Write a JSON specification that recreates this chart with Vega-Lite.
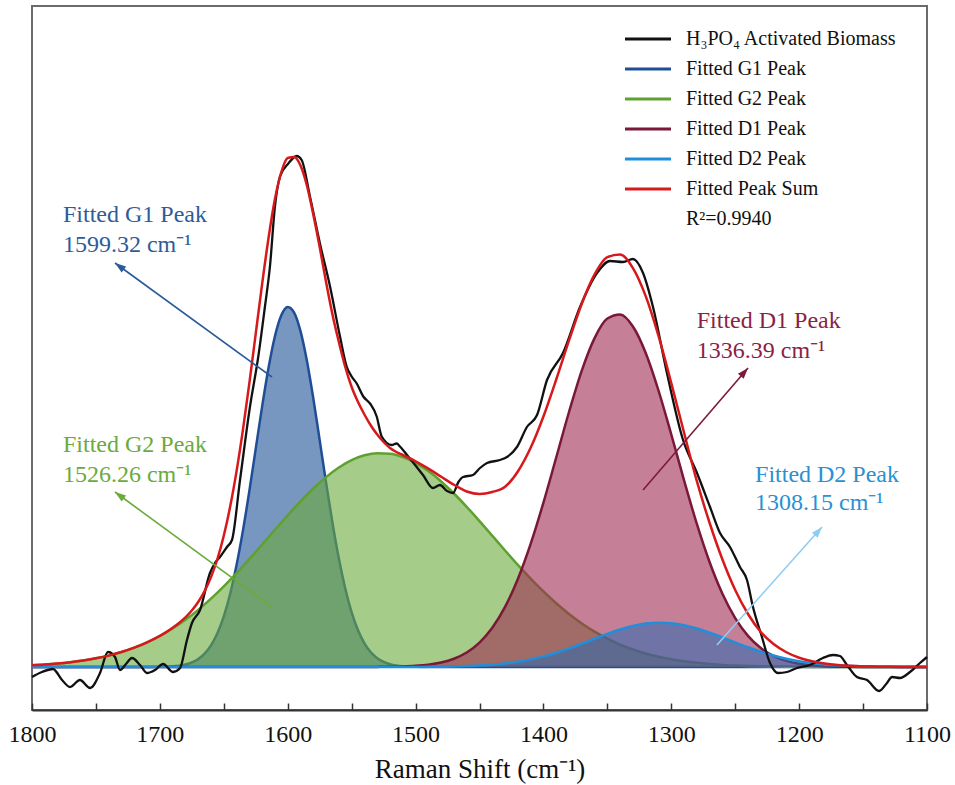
{
  "$schema": "https://vega.github.io/schema/vega-lite/v6.json",
  "width": 895,
  "height": 704,
  "autosize": {"type": "none"},
  "padding": {"left": 32, "top": 6, "right": 28, "bottom": 75},
  "background": "white",
  "config": {
    "font": "Liberation Serif",
    "view": {"stroke": "#6b6b6b", "strokeWidth": 2},
    "axis": {"grid": false, "labelFont": "Liberation Serif", "titleFont": "Liberation Serif"},
    "legend": {"labelFont": "Liberation Serif"},
    "text": {"font": "Liberation Serif"}
  },
  "datasets": {
    "peaks": [
      {"peak":"G1","v":1800,"I":0},{"peak":"G1","v":1720,"I":0},{"peak":"G1","v":1710,"I":0.0001},{"peak":"G1","v":1700,"I":0.0003},{"peak":"G1","v":1695,"I":0.0006},{"peak":"G1","v":1690,"I":0.0013},{"peak":"G1","v":1685,"I":0.0026},{"peak":"G1","v":1680,"I":0.0049},{"peak":"G1","v":1675,"I":0.009},{"peak":"G1","v":1670,"I":0.0158},{"peak":"G1","v":1665,"I":0.0266},{"peak":"G1","v":1660,"I":0.0431},{"peak":"G1","v":1655,"I":0.0674},{"peak":"G1","v":1650,"I":0.1013},{"peak":"G1","v":1645,"I":0.1466},{"peak":"G1","v":1640,"I":0.204},{"peak":"G1","v":1635,"I":0.2732},{"peak":"G1","v":1630,"I":0.3521},{"peak":"G1","v":1625,"I":0.4367},{"peak":"G1","v":1620,"I":0.5212},{"peak":"G1","v":1615,"I":0.5985},{"peak":"G1","v":1610,"I":0.6615},{"peak":"G1","v":1605,"I":0.7034},{"peak":"G1","v":1600,"I":0.72},{"peak":"G1","v":1595,"I":0.7089},{"peak":"G1","v":1590,"I":0.6718},{"peak":"G1","v":1585,"I":0.6125},{"peak":"G1","v":1580,"I":0.5375},{"peak":"G1","v":1575,"I":0.4538},{"peak":"G1","v":1570,"I":0.3687},{"peak":"G1","v":1565,"I":0.2883},{"peak":"G1","v":1560,"I":0.2169},{"peak":"G1","v":1555,"I":0.157},{"peak":"G1","v":1550,"I":0.1094},{"peak":"G1","v":1545,"I":0.0734},{"peak":"G1","v":1540,"I":0.0473},{"peak":"G1","v":1535,"I":0.0294},{"peak":"G1","v":1530,"I":0.0176},{"peak":"G1","v":1525,"I":0.0101},{"peak":"G1","v":1520,"I":0.0056},{"peak":"G1","v":1515,"I":0.003},{"peak":"G1","v":1510,"I":0.0015},{"peak":"G1","v":1500,"I":0.0004},{"peak":"G1","v":1490,"I":0.0001},{"peak":"G1","v":1480,"I":0},{"peak":"G1","v":1100,"I":0},
      {"peak":"G2","v":1800,"I":0.0035},{"peak":"G2","v":1790,"I":0.0049},{"peak":"G2","v":1780,"I":0.0068},{"peak":"G2","v":1770,"I":0.0094},{"peak":"G2","v":1760,"I":0.0128},{"peak":"G2","v":1750,"I":0.0173},{"peak":"G2","v":1740,"I":0.0228},{"peak":"G2","v":1730,"I":0.0299},{"peak":"G2","v":1720,"I":0.0387},{"peak":"G2","v":1710,"I":0.0493},{"peak":"G2","v":1700,"I":0.062},{"peak":"G2","v":1690,"I":0.077},{"peak":"G2","v":1680,"I":0.0944},{"peak":"G2","v":1670,"I":0.1143},{"peak":"G2","v":1660,"I":0.1366},{"peak":"G2","v":1650,"I":0.1612},{"peak":"G2","v":1640,"I":0.1877},{"peak":"G2","v":1630,"I":0.2157},{"peak":"G2","v":1620,"I":0.2449},{"peak":"G2","v":1610,"I":0.2744},{"peak":"G2","v":1600,"I":0.3034},{"peak":"G2","v":1590,"I":0.3312},{"peak":"G2","v":1580,"I":0.357},{"peak":"G2","v":1570,"I":0.3798},{"peak":"G2","v":1560,"I":0.399},{"peak":"G2","v":1550,"I":0.4137},{"peak":"G2","v":1540,"I":0.4234},{"peak":"G2","v":1530,"I":0.4277},{"peak":"G2","v":1520,"I":0.4267},{"peak":"G2","v":1510,"I":0.4201},{"peak":"G2","v":1500,"I":0.4084},{"peak":"G2","v":1490,"I":0.3918},{"peak":"G2","v":1480,"I":0.3711},{"peak":"G2","v":1470,"I":0.347},{"peak":"G2","v":1460,"I":0.3203},{"peak":"G2","v":1450,"I":0.2919},{"peak":"G2","v":1440,"I":0.2625},{"peak":"G2","v":1430,"I":0.2331},{"peak":"G2","v":1420,"I":0.2044},{"peak":"G2","v":1410,"I":0.1769},{"peak":"G2","v":1400,"I":0.1511},{"peak":"G2","v":1390,"I":0.1274},{"peak":"G2","v":1380,"I":0.106},{"peak":"G2","v":1370,"I":0.0871},{"peak":"G2","v":1360,"I":0.0707},{"peak":"G2","v":1350,"I":0.0566},{"peak":"G2","v":1340,"I":0.0447},{"peak":"G2","v":1330,"I":0.0349},{"peak":"G2","v":1320,"I":0.0269},{"peak":"G2","v":1310,"I":0.0204},{"peak":"G2","v":1300,"I":0.0153},{"peak":"G2","v":1290,"I":0.0114},{"peak":"G2","v":1280,"I":0.0083},{"peak":"G2","v":1270,"I":0.006},{"peak":"G2","v":1260,"I":0.0042},{"peak":"G2","v":1250,"I":0.003},{"peak":"G2","v":1240,"I":0.0021},{"peak":"G2","v":1230,"I":0.0014},{"peak":"G2","v":1220,"I":0.001},{"peak":"G2","v":1210,"I":0.0007},{"peak":"G2","v":1200,"I":0.0004},{"peak":"G2","v":1190,"I":0.0002},{"peak":"G2","v":1180,"I":0.0001},{"peak":"G2","v":1170,"I":0},{"peak":"G2","v":1100,"I":0},
      {"peak":"D1","v":1800,"I":0},{"peak":"D1","v":1540,"I":0},{"peak":"D1","v":1530,"I":0.0002},{"peak":"D1","v":1520,"I":0.0005},{"peak":"D1","v":1510,"I":0.0011},{"peak":"D1","v":1500,"I":0.0023},{"peak":"D1","v":1490,"I":0.0046},{"peak":"D1","v":1480,"I":0.0089},{"peak":"D1","v":1470,"I":0.0165},{"peak":"D1","v":1460,"I":0.029},{"peak":"D1","v":1450,"I":0.0488},{"peak":"D1","v":1440,"I":0.0784},{"peak":"D1","v":1430,"I":0.1202},{"peak":"D1","v":1420,"I":0.1761},{"peak":"D1","v":1410,"I":0.2462},{"peak":"D1","v":1400,"I":0.3287},{"peak":"D1","v":1390,"I":0.419},{"peak":"D1","v":1380,"I":0.51},{"peak":"D1","v":1370,"I":0.5928},{"peak":"D1","v":1360,"I":0.6578},{"peak":"D1","v":1350,"I":0.6969},{"peak":"D1","v":1340,"I":0.705},{"peak":"D1","v":1330,"I":0.6809},{"peak":"D1","v":1320,"I":0.628},{"peak":"D1","v":1310,"I":0.553},{"peak":"D1","v":1300,"I":0.465},{"peak":"D1","v":1290,"I":0.3733},{"peak":"D1","v":1280,"I":0.2861},{"peak":"D1","v":1270,"I":0.2094},{"peak":"D1","v":1260,"I":0.1463},{"peak":"D1","v":1250,"I":0.0976},{"peak":"D1","v":1240,"I":0.0622},{"peak":"D1","v":1230,"I":0.0378},{"peak":"D1","v":1220,"I":0.022},{"peak":"D1","v":1210,"I":0.0122},{"peak":"D1","v":1200,"I":0.0065},{"peak":"D1","v":1190,"I":0.0033},{"peak":"D1","v":1180,"I":0.0016},{"peak":"D1","v":1170,"I":0.0007},{"peak":"D1","v":1160,"I":0.0003},{"peak":"D1","v":1150,"I":0.0001},{"peak":"D1","v":1140,"I":0},{"peak":"D1","v":1100,"I":0},
      {"peak":"D2","v":1800,"I":0},{"peak":"D2","v":1510,"I":0},{"peak":"D2","v":1500,"I":0.0002},{"peak":"D2","v":1490,"I":0.0003},{"peak":"D2","v":1480,"I":0.0006},{"peak":"D2","v":1470,"I":0.001},{"peak":"D2","v":1460,"I":0.0018},{"peak":"D2","v":1450,"I":0.0029},{"peak":"D2","v":1440,"I":0.0046},{"peak":"D2","v":1430,"I":0.0071},{"peak":"D2","v":1420,"I":0.0106},{"peak":"D2","v":1410,"I":0.0153},{"peak":"D2","v":1400,"I":0.0213},{"peak":"D2","v":1390,"I":0.0286},{"peak":"D2","v":1380,"I":0.0372},{"peak":"D2","v":1370,"I":0.0467},{"peak":"D2","v":1360,"I":0.0566},{"peak":"D2","v":1350,"I":0.0663},{"peak":"D2","v":1340,"I":0.0751},{"peak":"D2","v":1330,"I":0.0821},{"peak":"D2","v":1320,"I":0.0868},{"peak":"D2","v":1310,"I":0.0887},{"peak":"D2","v":1300,"I":0.0875},{"peak":"D2","v":1290,"I":0.0835},{"peak":"D2","v":1280,"I":0.0769},{"peak":"D2","v":1270,"I":0.0685},{"peak":"D2","v":1260,"I":0.059},{"peak":"D2","v":1250,"I":0.049},{"peak":"D2","v":1240,"I":0.0394},{"peak":"D2","v":1230,"I":0.0306},{"peak":"D2","v":1220,"I":0.0229},{"peak":"D2","v":1210,"I":0.0166},{"peak":"D2","v":1200,"I":0.0117},{"peak":"D2","v":1190,"I":0.0079},{"peak":"D2","v":1180,"I":0.0052},{"peak":"D2","v":1170,"I":0.0033},{"peak":"D2","v":1160,"I":0.002},{"peak":"D2","v":1150,"I":0.0012},{"peak":"D2","v":1140,"I":0.0007},{"peak":"D2","v":1130,"I":0.0004},{"peak":"D2","v":1120,"I":0.0002},{"peak":"D2","v":1110,"I":0.0001},{"peak":"D2","v":1100,"I":0.0001}
    ],
    "spectrum": [
      {"series":"H₃PO₄ Activated Biomass","v":1800.0,"I":-0.020},{"series":"H₃PO₄ Activated Biomass","v":1792.2,"I":-0.010},{"series":"H₃PO₄ Activated Biomass","v":1783.6,"I":-0.004},{"series":"H₃PO₄ Activated Biomass","v":1776.5,"I":-0.026},{"series":"H₃PO₄ Activated Biomass","v":1770.3,"I":-0.040},{"series":"H₃PO₄ Activated Biomass","v":1762.5,"I":-0.026},{"series":"H₃PO₄ Activated Biomass","v":1754.6,"I":-0.042},{"series":"H₃PO₄ Activated Biomass","v":1746.8,"I":-0.012},{"series":"H₃PO₄ Activated Biomass","v":1740.6,"I":0.030},{"series":"H₃PO₄ Activated Biomass","v":1735.1,"I":0.020},{"series":"H₃PO₄ Activated Biomass","v":1731.2,"I":-0.006},{"series":"H₃PO₄ Activated Biomass","v":1726.5,"I":0.006},{"series":"H₃PO₄ Activated Biomass","v":1721.8,"I":0.018},{"series":"H₃PO₄ Activated Biomass","v":1715.5,"I":0.004},{"series":"H₃PO₄ Activated Biomass","v":1710.1,"I":-0.012},{"series":"H₃PO₄ Activated Biomass","v":1703.8,"I":-0.006},{"series":"H₃PO₄ Activated Biomass","v":1697.5,"I":0.006},{"series":"H₃PO₄ Activated Biomass","v":1689.7,"I":-0.010},{"series":"H₃PO₄ Activated Biomass","v":1684.2,"I":-0.002},{"series":"H₃PO₄ Activated Biomass","v":1678.8,"I":0.054},{"series":"H₃PO₄ Activated Biomass","v":1674.9,"I":0.088},{"series":"H₃PO₄ Activated Biomass","v":1668.6,"I":0.114},{"series":"H₃PO₄ Activated Biomass","v":1660.8,"I":0.188},{"series":"H₃PO₄ Activated Biomass","v":1656.9,"I":0.208},{"series":"H₃PO₄ Activated Biomass","v":1653.0,"I":0.220},{"series":"H₃PO₄ Activated Biomass","v":1647.5,"I":0.240},{"series":"H₃PO₄ Activated Biomass","v":1643.6,"I":0.254},{"series":"H₃PO₄ Activated Biomass","v":1637.3,"I":0.374},{"series":"H₃PO₄ Activated Biomass","v":1629.5,"I":0.521},{"series":"H₃PO₄ Activated Biomass","v":1623.0,"I":0.621},{"series":"H₃PO₄ Activated Biomass","v":1617.8,"I":0.721},{"series":"H₃PO₄ Activated Biomass","v":1613.9,"I":0.801},{"series":"H₃PO₄ Activated Biomass","v":1610.0,"I":0.921},{"series":"H₃PO₄ Activated Biomass","v":1606.0,"I":0.981},{"series":"H₃PO₄ Activated Biomass","v":1599.5,"I":1.007},{"series":"H₃PO₄ Activated Biomass","v":1593.0,"I":1.022},{"series":"H₃PO₄ Activated Biomass","v":1589.1,"I":1.014},{"series":"H₃PO₄ Activated Biomass","v":1582.6,"I":0.941},{"series":"H₃PO₄ Activated Biomass","v":1574.8,"I":0.847},{"series":"H₃PO₄ Activated Biomass","v":1566.9,"I":0.761},{"series":"H₃PO₄ Activated Biomass","v":1559.1,"I":0.661},{"series":"H₃PO₄ Activated Biomass","v":1553.9,"I":0.601},{"series":"H₃PO₄ Activated Biomass","v":1550.0,"I":0.581},{"series":"H₃PO₄ Activated Biomass","v":1546.0,"I":0.567},{"series":"H₃PO₄ Activated Biomass","v":1540.9,"I":0.541},{"series":"H₃PO₄ Activated Biomass","v":1535.6,"I":0.527},{"series":"H₃PO₄ Activated Biomass","v":1530.4,"I":0.501},{"series":"H₃PO₄ Activated Biomass","v":1526.5,"I":0.461},{"series":"H₃PO₄ Activated Biomass","v":1518.7,"I":0.444},{"series":"H₃PO₄ Activated Biomass","v":1514.8,"I":0.447},{"series":"H₃PO₄ Activated Biomass","v":1512.2,"I":0.441},{"series":"H₃PO₄ Activated Biomass","v":1506.7,"I":0.424},{"series":"H₃PO₄ Activated Biomass","v":1494.2,"I":0.384},{"series":"H₃PO₄ Activated Biomass","v":1486.4,"I":0.358},{"series":"H₃PO₄ Activated Biomass","v":1480.9,"I":0.364},{"series":"H₃PO₄ Activated Biomass","v":1475.4,"I":0.352},{"series":"H₃PO₄ Activated Biomass","v":1470.7,"I":0.348},{"series":"H₃PO₄ Activated Biomass","v":1466.5,"I":0.370},{"series":"H₃PO₄ Activated Biomass","v":1462.9,"I":0.380},{"series":"H₃PO₄ Activated Biomass","v":1455.1,"I":0.384},{"series":"H₃PO₄ Activated Biomass","v":1449.6,"I":0.398},{"series":"H₃PO₄ Activated Biomass","v":1444.1,"I":0.408},{"series":"H₃PO₄ Activated Biomass","v":1434.0,"I":0.414},{"series":"H₃PO₄ Activated Biomass","v":1428.5,"I":0.420},{"series":"H₃PO₄ Activated Biomass","v":1420.7,"I":0.440},{"series":"H₃PO₄ Activated Biomass","v":1412.9,"I":0.480},{"series":"H₃PO₄ Activated Biomass","v":1405.0,"I":0.504},{"series":"H₃PO₄ Activated Biomass","v":1397.2,"I":0.574},{"series":"H₃PO₄ Activated Biomass","v":1384.7,"I":0.628},{"series":"H₃PO₄ Activated Biomass","v":1371.4,"I":0.720},{"series":"H₃PO₄ Activated Biomass","v":1358.1,"I":0.788},{"series":"H₃PO₄ Activated Biomass","v":1347.9,"I":0.812},{"series":"H₃PO₄ Activated Biomass","v":1337.8,"I":0.810},{"series":"H₃PO₄ Activated Biomass","v":1330.0,"I":0.816},{"series":"H₃PO₄ Activated Biomass","v":1322.1,"I":0.788},{"series":"H₃PO₄ Activated Biomass","v":1314.3,"I":0.720},{"series":"H₃PO₄ Activated Biomass","v":1303.4,"I":0.588},{"series":"H₃PO₄ Activated Biomass","v":1290.8,"I":0.454},{"series":"H₃PO₄ Activated Biomass","v":1279.9,"I":0.388},{"series":"H₃PO₄ Activated Biomass","v":1269.7,"I":0.320},{"series":"H₃PO₄ Activated Biomass","v":1261.9,"I":0.268},{"series":"H₃PO₄ Activated Biomass","v":1254.1,"I":0.240},{"series":"H₃PO₄ Activated Biomass","v":1246.3,"I":0.200},{"series":"H₃PO₄ Activated Biomass","v":1240.8,"I":0.174},{"series":"H₃PO₄ Activated Biomass","v":1236.1,"I":0.120},{"series":"H₃PO₄ Activated Biomass","v":1229.1,"I":0.060},{"series":"H₃PO₄ Activated Biomass","v":1222.8,"I":0.008},{"series":"H₃PO₄ Activated Biomass","v":1216.5,"I":-0.012},{"series":"H₃PO₄ Activated Biomass","v":1209.5,"I":-0.010},{"series":"H₃PO₄ Activated Biomass","v":1201.7,"I":-0.002},{"series":"H₃PO₄ Activated Biomass","v":1191.5,"I":0.004},{"series":"H₃PO₄ Activated Biomass","v":1181.4,"I":0.018},{"series":"H₃PO₄ Activated Biomass","v":1173.5,"I":0.024},{"series":"H₃PO₄ Activated Biomass","v":1168.1,"I":0.022},{"series":"H₃PO₄ Activated Biomass","v":1162.6,"I":0.004},{"series":"H₃PO₄ Activated Biomass","v":1154.8,"I":-0.020},{"series":"H₃PO₄ Activated Biomass","v":1146.9,"I":-0.026},{"series":"H₃PO₄ Activated Biomass","v":1137.5,"I":-0.048},{"series":"H₃PO₄ Activated Biomass","v":1131.3,"I":-0.032},{"series":"H₃PO₄ Activated Biomass","v":1127.4,"I":-0.020},{"series":"H₃PO₄ Activated Biomass","v":1121.1,"I":-0.022},{"series":"H₃PO₄ Activated Biomass","v":1113.3,"I":-0.010},{"series":"H₃PO₄ Activated Biomass","v":1105.5,"I":0.008},{"series":"H₃PO₄ Activated Biomass","v":1100.0,"I":0.020},
      {"series":"Fitted Peak Sum","v":1800,"I":0.0035},{"series":"Fitted Peak Sum","v":1790,"I":0.0049},{"series":"Fitted Peak Sum","v":1780,"I":0.0068},{"series":"Fitted Peak Sum","v":1770,"I":0.0094},{"series":"Fitted Peak Sum","v":1760,"I":0.0128},{"series":"Fitted Peak Sum","v":1750,"I":0.0173},{"series":"Fitted Peak Sum","v":1740,"I":0.0228},{"series":"Fitted Peak Sum","v":1730,"I":0.0299},{"series":"Fitted Peak Sum","v":1720,"I":0.0387},{"series":"Fitted Peak Sum","v":1710,"I":0.0494},{"series":"Fitted Peak Sum","v":1700,"I":0.0623},{"series":"Fitted Peak Sum","v":1695,"I":0.0698},{"series":"Fitted Peak Sum","v":1690,"I":0.0783},{"series":"Fitted Peak Sum","v":1685,"I":0.088},{"series":"Fitted Peak Sum","v":1680,"I":0.0993},{"series":"Fitted Peak Sum","v":1675,"I":0.113},{"series":"Fitted Peak Sum","v":1670,"I":0.1301},{"series":"Fitted Peak Sum","v":1665,"I":0.1517},{"series":"Fitted Peak Sum","v":1660,"I":0.1797},{"series":"Fitted Peak Sum","v":1655,"I":0.216},{"series":"Fitted Peak Sum","v":1650,"I":0.2625},{"series":"Fitted Peak Sum","v":1645,"I":0.3208},{"series":"Fitted Peak Sum","v":1640,"I":0.3917},{"series":"Fitted Peak Sum","v":1635,"I":0.4748},{"series":"Fitted Peak Sum","v":1630,"I":0.5678},{"series":"Fitted Peak Sum","v":1625,"I":0.6669},{"series":"Fitted Peak Sum","v":1620,"I":0.7661},{"series":"Fitted Peak Sum","v":1615,"I":0.8581},{"series":"Fitted Peak Sum","v":1610,"I":0.9359},{"series":"Fitted Peak Sum","v":1605,"I":0.99},{"series":"Fitted Peak Sum","v":1600,"I":1.018},{"series":"Fitted Peak Sum","v":1595,"I":1.02},{"series":"Fitted Peak Sum","v":1590,"I":1.003},{"series":"Fitted Peak Sum","v":1585,"I":0.963},{"series":"Fitted Peak Sum","v":1580,"I":0.905},{"series":"Fitted Peak Sum","v":1575,"I":0.84},{"series":"Fitted Peak Sum","v":1570,"I":0.77},{"series":"Fitted Peak Sum","v":1565,"I":0.705},{"series":"Fitted Peak Sum","v":1560,"I":0.65},{"series":"Fitted Peak Sum","v":1555,"I":0.6},{"series":"Fitted Peak Sum","v":1550,"I":0.56},{"series":"Fitted Peak Sum","v":1545,"I":0.53},{"series":"Fitted Peak Sum","v":1540,"I":0.505},{"series":"Fitted Peak Sum","v":1535,"I":0.483},{"series":"Fitted Peak Sum","v":1530,"I":0.465},{"series":"Fitted Peak Sum","v":1525,"I":0.45},{"series":"Fitted Peak Sum","v":1520,"I":0.438},{"series":"Fitted Peak Sum","v":1515,"I":0.43},{"series":"Fitted Peak Sum","v":1510,"I":0.424},{"series":"Fitted Peak Sum","v":1500,"I":0.4113},{"series":"Fitted Peak Sum","v":1490,"I":0.3968},{"series":"Fitted Peak Sum","v":1480,"I":0.3806},{"series":"Fitted Peak Sum","v":1470,"I":0.3645},{"series":"Fitted Peak Sum","v":1460,"I":0.3511},{"series":"Fitted Peak Sum","v":1450,"I":0.346},{"series":"Fitted Peak Sum","v":1440,"I":0.35},{"series":"Fitted Peak Sum","v":1430,"I":0.3604},{"series":"Fitted Peak Sum","v":1420,"I":0.3911},{"series":"Fitted Peak Sum","v":1410,"I":0.4384},{"series":"Fitted Peak Sum","v":1400,"I":0.5011},{"series":"Fitted Peak Sum","v":1390,"I":0.575},{"series":"Fitted Peak Sum","v":1380,"I":0.6532},{"series":"Fitted Peak Sum","v":1370,"I":0.7266},{"series":"Fitted Peak Sum","v":1360,"I":0.7851},{"series":"Fitted Peak Sum","v":1350,"I":0.8198},{"series":"Fitted Peak Sum","v":1340,"I":0.8248},{"series":"Fitted Peak Sum","v":1330,"I":0.7979},{"series":"Fitted Peak Sum","v":1320,"I":0.7417},{"series":"Fitted Peak Sum","v":1310,"I":0.6621},{"series":"Fitted Peak Sum","v":1300,"I":0.5678},{"series":"Fitted Peak Sum","v":1290,"I":0.4686},{"series":"Fitted Peak Sum","v":1280,"I":0.3716},{"series":"Fitted Peak Sum","v":1270,"I":0.288},{"series":"Fitted Peak Sum","v":1260,"I":0.215},{"series":"Fitted Peak Sum","v":1250,"I":0.154},{"series":"Fitted Peak Sum","v":1240,"I":0.106},{"series":"Fitted Peak Sum","v":1230,"I":0.0699},{"series":"Fitted Peak Sum","v":1220,"I":0.0459},{"series":"Fitted Peak Sum","v":1210,"I":0.0295},{"series":"Fitted Peak Sum","v":1200,"I":0.0186},{"series":"Fitted Peak Sum","v":1190,"I":0.0115},{"series":"Fitted Peak Sum","v":1180,"I":0.0068},{"series":"Fitted Peak Sum","v":1170,"I":0.004},{"series":"Fitted Peak Sum","v":1160,"I":0.0023},{"series":"Fitted Peak Sum","v":1150,"I":0.0012},{"series":"Fitted Peak Sum","v":1140,"I":0.0007},{"series":"Fitted Peak Sum","v":1130,"I":0.0004},{"series":"Fitted Peak Sum","v":1120,"I":0.0002},{"series":"Fitted Peak Sum","v":1110,"I":0.0001},{"series":"Fitted Peak Sum","v":1100,"I":0.0001}
    ],
    "labels": [
      {"peak":"G1","v":1775.8,"I":0.8906,"text":"Fitted G1 Peak"},
      {"peak":"G1","v":1775.8,"I":0.8306,"text":"1599.32 cm⁻¹"},
      {"peak":"G2","v":1775.8,"I":0.4306,"text":"Fitted G2 Peak"},
      {"peak":"G2","v":1775.8,"I":0.3706,"text":"1526.26 cm⁻¹"},
      {"peak":"D1","v":1280.1,"I":0.6774,"text":"Fitted D1 Peak"},
      {"peak":"D1","v":1280.1,"I":0.6174,"text":"1336.39 cm⁻¹"},
      {"peak":"D2","v":1234.5,"I":0.3706,"text":"Fitted D2 Peak"},
      {"peak":"D2","v":1234.5,"I":0.314,"text":"1308.15 cm⁻¹"}
    ],
    "arrows": [
      {"peak":"G1","v":1612.3,"I":0.58,"v2":1735.1,"I2":0.808},
      {"peak":"G2","v":1612.3,"I":0.12,"v2":1735.1,"I2":0.35},
      {"peak":"D1","v":1322.1,"I":0.354,"v2":1240.0,"I2":0.598},
      {"peak":"D2","v":1264.3,"I":0.044,"v2":1182.1,"I2":0.28}
    ]
  },
  "encoding": {
    "x": {
      "field": "v", "type": "quantitative",
      "scale": {"domain": [1800, 1100], "nice": false, "zero": false},
      "axis": {
        "title": "Raman Shift (cm⁻¹)",
        "values": [1800,1750,1700,1650,1600,1550,1500,1450,1400,1350,1300,1250,1200,1150,1100],
        "format": "d",
        "labelExpr": "datum.value % 100 === 0 ? datum.label : ''",
        "labelFlush": false, "labelOverlap": false,
        "tickSize": -7, "tickWidth": 1.5, "tickColor": "#333333",
        "domainColor": "#333333", "domainWidth": 2,
        "labelFont": "Liberation Serif", "titleFont": "Liberation Serif",
        "labelFontSize": 24, "labelPadding": 19, "labelColor": "#111111",
        "titleFontSize": 27, "titleFontWeight": "normal", "titleColor": "#111111", "titlePadding": 10
      }
    },
    "y": {
      "field": "I", "type": "quantitative",
      "scale": {"domain": [-0.086, 1.322], "nice": false, "zero": false},
      "axis": null
    }
  },
  "layer": [
    {
      "data": {"name": "peaks"},
      "transform": [{"filter": "datum.peak === 'G1'"}],
      "mark": {"type": "area", "interpolate": "monotone", "color": "#2f5f9e", "fillOpacity": 0.65, "line": {"color": "#1f4e96", "strokeWidth": 2.5}},
      "encoding": {"y2": {"datum": 0}}
    },
    {
      "data": {"name": "peaks"},
      "transform": [{"filter": "datum.peak === 'G2'"}],
      "mark": {"type": "area", "interpolate": "monotone", "color": "#6aaa3a", "fillOpacity": 0.6, "line": {"color": "#5ea12e", "strokeWidth": 2.5}},
      "encoding": {"y2": {"datum": 0}}
    },
    {
      "data": {"name": "peaks"},
      "transform": [{"filter": "datum.peak === 'D1'"}],
      "mark": {"type": "area", "interpolate": "monotone", "color": "#9e2a50", "fillOpacity": 0.6, "line": {"color": "#7a1838", "strokeWidth": 2.5}},
      "encoding": {"y2": {"datum": 0}}
    },
    {
      "data": {"name": "peaks"},
      "transform": [{"filter": "datum.peak === 'D2'"}],
      "mark": {"type": "area", "interpolate": "monotone", "color": "#2a6ab4", "fillOpacity": 0.55, "line": {"color": "#1f8fdb", "strokeWidth": 2.5}},
      "encoding": {"y2": {"datum": 0}}
    },
    {
      "data": {"name": "spectrum"},
      "transform": [{"filter": "datum.series !== 'Fitted Peak Sum'"}],
      "mark": {"type": "line", "interpolate": "monotone", "strokeWidth": 2.3},
      "encoding": {
        "stroke": {
          "field": "series", "type": "nominal",
          "scale": {
            "domain": ["H₃PO₄ Activated Biomass","Fitted G1 Peak","Fitted G2 Peak","Fitted D1 Peak","Fitted D2 Peak","Fitted Peak Sum","R²=0.9940"],
            "range": ["#111111","#1f4e96","#5ea12e","#7a1838","#1f8fdb","#d7191c","rgba(0,0,0,0)"]
          },
          "legend": {
            "title": null, "orient": "none", "legendX": 603, "legendY": 20,
            "symbolType": "M-2,0L2,0", "symbolSize": 529, "symbolStrokeWidth": 3,
            "labelFont": "Liberation Serif", "labelFontSize": 20, "labelColor": "#111111",
            "labelOffset": 25, "rowPadding": 7, "labelLimit": 400, "padding": 0
          }
        }
      }
    },
    {
      "data": {"name": "spectrum"},
      "transform": [{"filter": "datum.series === 'Fitted Peak Sum'"}],
      "mark": {"type": "line", "interpolate": "monotone", "strokeWidth": 2.5},
      "encoding": {"stroke": {"field": "series", "type": "nominal"}}
    },
    {
      "data": {"name": "arrows"},
      "mark": {"type": "rule", "strokeWidth": 1.6},
      "encoding": {
        "x2": {"field": "v2"}, "y2": {"field": "I2"},
        "color": {"field": "peak", "type": "nominal", "legend": null,
          "scale": {"domain": ["G1","G2","D1","D2"], "range": ["#2a5a9a","#6aab3c","#7d1a3c","#8ecdf2"]}}
      }
    },
    {
      "data": {"name": "arrows"},
      "transform": [{"filter": "datum.peak === 'G1' || datum.peak === 'G2'"}],
      "mark": {"type": "point", "shape": "M0,0L-0.38,1.1L0.38,1.1Z", "size": 400, "filled": true, "opacity": 1, "angle": 306},
      "encoding": {
        "x": {"field": "v2", "type": "quantitative"}, "y": {"field": "I2", "type": "quantitative"},
        "color": {"field": "peak", "type": "nominal", "legend": null,
          "scale": {"domain": ["G1","G2","D1","D2"], "range": ["#2a5a9a","#6aab3c","#7d1a3c","#8ecdf2"]}}
      }
    },
    {
      "data": {"name": "arrows"},
      "transform": [{"filter": "datum.peak === 'D1' || datum.peak === 'D2'"}],
      "mark": {"type": "point", "shape": "M0,0L-0.38,1.1L0.38,1.1Z", "size": 400, "filled": true, "opacity": 1, "angle": 41},
      "encoding": {
        "x": {"field": "v2", "type": "quantitative"}, "y": {"field": "I2", "type": "quantitative"},
        "color": {"field": "peak", "type": "nominal", "legend": null,
          "scale": {"domain": ["G1","G2","D1","D2"], "range": ["#2a5a9a","#6aab3c","#7d1a3c","#8ecdf2"]}}
      }
    },
    {
      "data": {"name": "labels"},
      "mark": {"type": "text", "align": "left", "baseline": "alphabetic", "fontSize": 24, "font": "Liberation Serif"},
      "encoding": {
        "text": {"field": "text"},
        "color": {"field": "peak", "type": "nominal", "legend": null,
          "scale": {"domain": ["G1","G2","D1","D2"], "range": ["#2d5c99","#6aab3c","#8b1f45","#2a90d2"]}}
      }
    }
  ],
  "resolve": {"scale": {"color": "independent"}}
}
